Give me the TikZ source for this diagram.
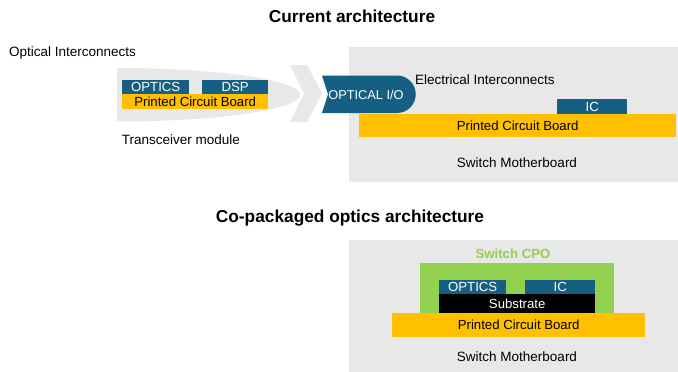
\documentclass[tikz,border=0pt]{standalone}
\usepackage{fontspec}
\setmainfont{Liberation Sans}
\definecolor{chipblue}{HTML}{156082}
\definecolor{pcbyellow}{HTML}{FFC000}
\definecolor{cpogreen}{HTML}{92D050}
\definecolor{panelgrey}{HTML}{E8E8E8}
\tikzset{
  chip/.style={fill=chipblue, text=white, inner sep=0pt, font=\fontsize{13.2}{13}\selectfont},
  pcb/.style={fill=pcbyellow, text=black, inner sep=0pt, font=\fontsize{13.2}{13}\selectfont},
  label/.style={inner sep=0pt, font=\fontsize{13.5}{14}\selectfont},
  heading/.style={inner sep=0pt, font=\fontsize{17.3}{18}\selectfont\bfseries},
}
\begin{document}
\begin{tikzpicture}[x=1pt,y=-1pt]
\useasboundingbox (0,0) rectangle (678,372);

% ---------- current architecture ----------
\node[heading] (t1) at (352,16) {Current architecture};
\node[label, anchor=west] (oi) at (9,53) {Optical Interconnects};

% transceiver module body
\fill[panelgrey] (117,68) -- (117,121.5) arc[start angle=90, end angle=-90, x radius=183, y radius=26.75] -- cycle;
% chevron
\fill[panelgrey] (290,65) -- (307,65) -- (322,93.5) -- (307,122) -- (290,122) -- (304,93.5) -- cycle;

\node[chip, minimum width=67pt, minimum height=14pt, anchor=north west] (topt) at (122,80) {OPTICS};
\node[chip, minimum width=66pt, minimum height=14pt, anchor=north west] (tdsp) at (202,80) {DSP};
\node[pcb, minimum width=146pt, minimum height=14.5pt, anchor=north west] (tpcb) at (122,94) {Printed Circuit Board};
\node[label] (tm) at (181,140) {Transceiver module};

% switch motherboard
\fill[panelgrey] (349,47) rectangle (678,182);
\node[pcb, minimum width=317pt, minimum height=23pt, anchor=north west] (spcb) at (359,114) {Printed Circuit Board};
\node[chip, minimum width=70pt, minimum height=15pt, anchor=north west] (sic) at (557,99) {IC};
\node[label] (smb) at (517,163) {Switch Motherboard};
\node[label, anchor=west] (ei) at (415,80) {Electrical Interconnects};

% optical I/O port: notched left end, round right end
\fill[chipblue] (322,113) -- (397,113) arc[start angle=90, end angle=-90, x radius=18.75, y radius=18.75]
  -- (322,75.5) -- (328,94.25) -- cycle;
\node[inner sep=0pt, text=white, font=\fontsize{12.8}{13}\selectfont] (oio) at (366,95) {OPTICAL I/O};

% ---------- co-packaged optics architecture ----------
\node[heading] (t2) at (350,218) {Co-packaged optics architecture};
\fill[panelgrey] (349,240) rectangle (678,372);
\node[inner sep=0pt, text=cpogreen, font=\fontsize{13.2}{13}\selectfont\bfseries] (cpo) at (513,254) {Switch CPO};
\fill[cpogreen] (420,263) rectangle (614,313);
\node[chip, minimum width=67pt, minimum height=14pt, anchor=north west] (copt) at (439,280) {OPTICS};
\node[chip, minimum width=70pt, minimum height=14pt, anchor=north west] (cic) at (525,280) {IC};
\node[fill=black, text=white, inner sep=0pt, minimum width=156pt, minimum height=19pt, anchor=north west, font=\fontsize{13.2}{13}\selectfont] (csub) at (439,294) {Substrate};
\node[pcb, minimum width=253pt, minimum height=24pt, anchor=north west] (cpcb) at (392,313) {Printed Circuit Board};
\node[label] (cmb) at (517,357) {Switch Motherboard};
\end{tikzpicture}
\end{document}
